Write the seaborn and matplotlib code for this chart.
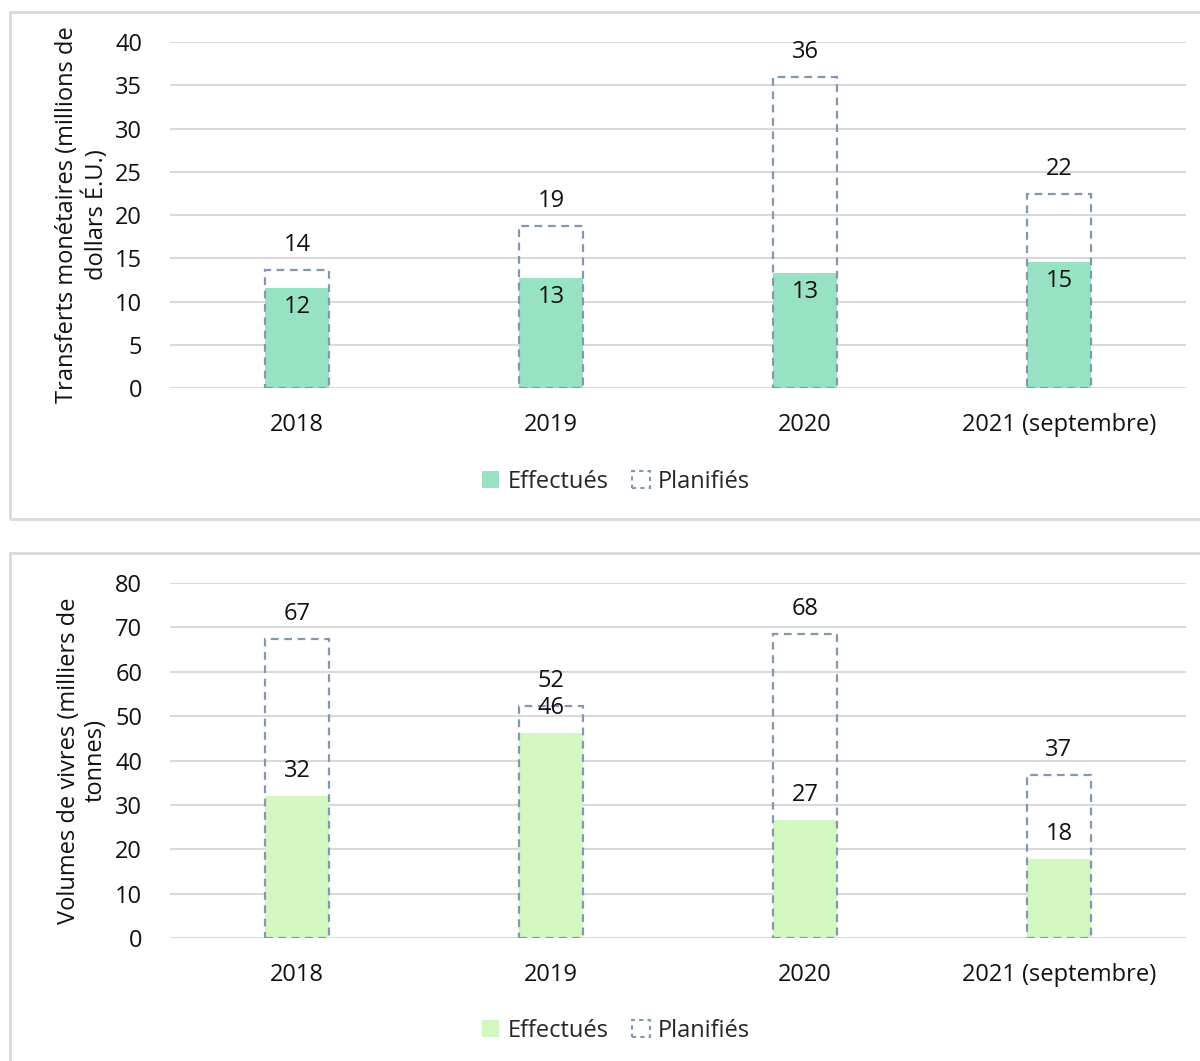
import matplotlib
matplotlib.use("Agg")
import matplotlib.pyplot as plt
import matplotlib.patches as mpatches
import seaborn as sns
import pandas as pd

# --- data ---
years = ["2018", "2019", "2020", "2021 (septembre)"]

cash_done = [11.6, 12.7, 13.3, 14.6]
cash_planned = [13.6, 18.7, 36.0, 22.4]

food_done = [32.0, 46.2, 26.6, 17.9]
food_planned = [67.3, 52.2, 68.4, 36.8]

cash_color = "#98E2C4"
food_color = "#D2F7C1"
dash_color = "#8497B0"
grid_color = "#D9D9D9"

sns.set_theme(style="white")
plt.rcParams["font.family"] = ["Open Sans", "DejaVu Sans"]
FS = 17

W, H = 1200, 1061
fig = plt.figure(figsize=(W / 100, H / 100), dpi=100)


def px_box(left, top, right, bottom):
    return [left / W, 1 - bottom / H, (right - left) / W, (bottom - top) / H]


def draw_panel(ax, done, planned, color, ymax, step, ylabel, done_inside):
    df = pd.DataFrame({"year": years, "done": done, "planned": planned})
    ax.set_axisbelow(True)
    sns.barplot(data=df, x="year", y="done", color=color, width=0.252,
                saturation=1, linewidth=0, ax=ax, zorder=2)
    sns.barplot(data=df, x="year", y="planned", fill=False, color=dash_color,
                width=0.252, linewidth=1.6, linestyle=(0, (3.5, 2.5)),
                saturation=1, ax=ax, zorder=3)
    ax.set_xlim(-0.5, 3.5)
    ax.set_ylim(0, ymax)
    ax.set_yticks(range(0, ymax + 1, step))
    ax.yaxis.grid(True, color=grid_color, linewidth=1.5)
    for s in ax.spines.values():
        s.set_visible(False)
    ax.tick_params(axis="both", length=0, labelsize=FS, colors="#111111")
    ax.tick_params(axis="y", pad=20)
    ax.tick_params(axis="x", pad=18)
    ax.set_xlabel("")
    ax.set_ylabel("")

    for i, (d, p) in enumerate(zip(done, planned)):
        ax.annotate(f"{p:.0f}", (i, p), xytext=(0, 25), textcoords="offset pixels",
                    ha="center", va="center", fontsize=FS, color="#111111")
        off = -19 if done_inside else 25
        ax.annotate(f"{d:.0f}", (i, d), xytext=(0, off), textcoords="offset pixels",
                    ha="center", va="center", fontsize=FS, color="#111111", zorder=5)

    pos = ax.get_position()
    fig.text(82 / W, (pos.y0 + pos.y1) / 2, ylabel, rotation=90, ha="center",
             va="center", multialignment="center", fontsize=FS, color="#111111",
             linespacing=1.15)


# panel frames
for top, bottom in [(12, 519), (553, 1075)]:
    fig.patches.append(mpatches.Rectangle((9.5 / W, 1 - bottom / H), 1.05,
                                          (bottom - top) / H, transform=fig.transFigure,
                                          fill=False, edgecolor=grid_color, linewidth=2))

ax1 = fig.add_axes(px_box(170, 42, 1186, 388))
draw_panel(ax1, cash_done, cash_planned, cash_color, 40, 5,
           "Transferts monétaires (millions de\ndollars É.U.)", True)

ax2 = fig.add_axes(px_box(170, 583, 1186, 938))
draw_panel(ax2, food_done, food_planned, food_color, 80, 10,
           "Volumes de vivres (milliers de\ntonnes)", False)

for color, ycen in [(cash_color, 482), (food_color, 1031)]:
    handles = [
        mpatches.Patch(facecolor=color, edgecolor="none", label="Effectués"),
        mpatches.Patch(facecolor="none", edgecolor=dash_color, linestyle=(0, (2, 2)),
                       linewidth=1.5, label="Planifiés"),
    ]
    fig.legend(handles=handles, loc="center", bbox_to_anchor=(616 / W, 1 - ycen / H),
               ncol=2, frameon=False, fontsize=FS, handlelength=0.75,
               handleheight=0.75, handletextpad=0.35, columnspacing=1.0)

fig.savefig("out.png", dpi=100)
